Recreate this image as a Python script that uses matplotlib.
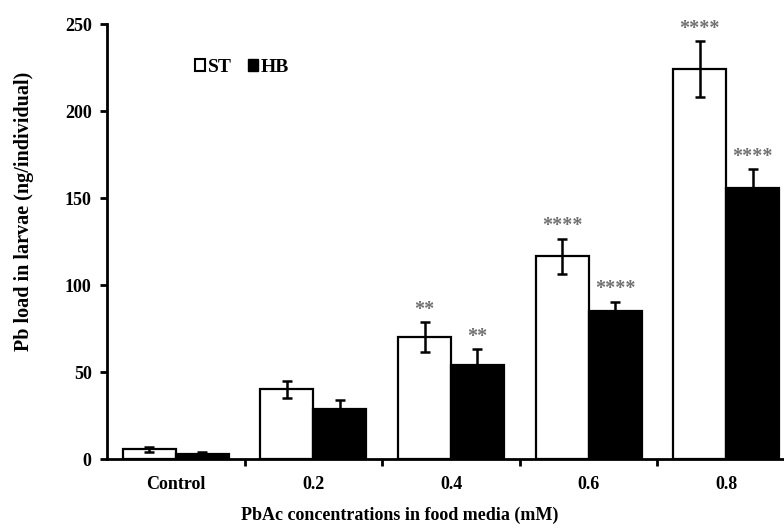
import numpy as np
import matplotlib.pyplot as plt
from matplotlib.patches import Patch

plt.rcParams['font.family'] = ['Liberation Serif', 'DejaVu Serif']
plt.rcParams['font.weight'] = 'bold'
plt.rcParams['axes.labelweight'] = 'bold'

# data
categories = ["Control", "0.2", "0.4", "0.6", "0.8"]
st_mean = [5.5, 40, 70, 116.5, 224]
st_err = [1.5, 5, 8.5, 10, 16]
hb_mean = [3, 29, 54, 85, 156]
hb_err = [1, 5, 9, 5.5, 10.5]
st_sig = ["", "", "**", "****", "****"]
hb_sig = ["", "", "**", "****", "****"]

fig = plt.figure(figsize=(7.84, 5.29), dpi=100)
ax = fig.add_axes([0.1365, 0.1323, 0.8635, 0.8223])

x = np.arange(len(categories))
w = 0.385

ax.bar(x - w / 2, st_mean, w, color="white", edgecolor="black", linewidth=1.6, zorder=2)
ax.bar(x + w / 2, hb_mean, w, color="black", edgecolor="black", linewidth=1.6, zorder=2)
ax.errorbar(x - w / 2, st_mean, yerr=st_err, fmt="none", ecolor="black",
            elinewidth=1.8, capsize=3.6, capthick=1.8, zorder=3)
ax.errorbar(x + w / 2, hb_mean, yerr=hb_err, fmt="none", ecolor="black",
            elinewidth=1.8, capsize=3.6, capthick=1.8, zorder=3)

# significance stars
for i in range(len(categories)):
    if st_sig[i]:
        ax.text(x[i] - w / 2, st_mean[i] + st_err[i] + 1.5, st_sig[i], ha="center",
                va="bottom", color="#707070", fontsize=14.5)
    if hb_sig[i]:
        ax.text(x[i] + w / 2, hb_mean[i] + hb_err[i] + 1.5, hb_sig[i], ha="center",
                va="bottom", color="#707070", fontsize=14.5)

ax.set_xlim(-0.5, 4.42)
ax.set_ylim(0, 250)
ax.set_yticks([0, 50, 100, 150, 200, 250])
ax.set_xticks(x)
ax.set_xticklabels(categories)
ax.set_xticks(x[:-1] + 0.5, minor=True)
ax.tick_params(axis="x", which="major", length=0, pad=12, labelsize=13)
ax.tick_params(axis="x", which="minor", length=5, width=2, direction="out")
ax.tick_params(axis="y", length=5, width=2, direction="out", labelsize=13, pad=6)

for side in ["top", "right"]:
    ax.spines[side].set_visible(False)
for side in ["left", "bottom"]:
    ax.spines[side].set_linewidth(2)

ax.set_ylabel("Pb load in larvae (ng/individual)", fontsize=14.5)
ax.yaxis.set_label_coords(-0.108, 0.57)
ax.set_xlabel("PbAc concentrations in food media (mM)", fontsize=13)
ax.xaxis.set_label_coords(0.433, -0.11)

handles = [Patch(facecolor="white", edgecolor="black", linewidth=1.5, label="ST"),
           Patch(facecolor="black", edgecolor="black", label="HB")]
ax.legend(handles=handles, ncol=2, frameon=False, loc="upper left",
          bbox_to_anchor=(0.104, 0.96), handlelength=0.5, handleheight=0.5,
          handletextpad=0.15, columnspacing=0.85, fontsize=14)

fig.savefig("out.png", dpi=100)
